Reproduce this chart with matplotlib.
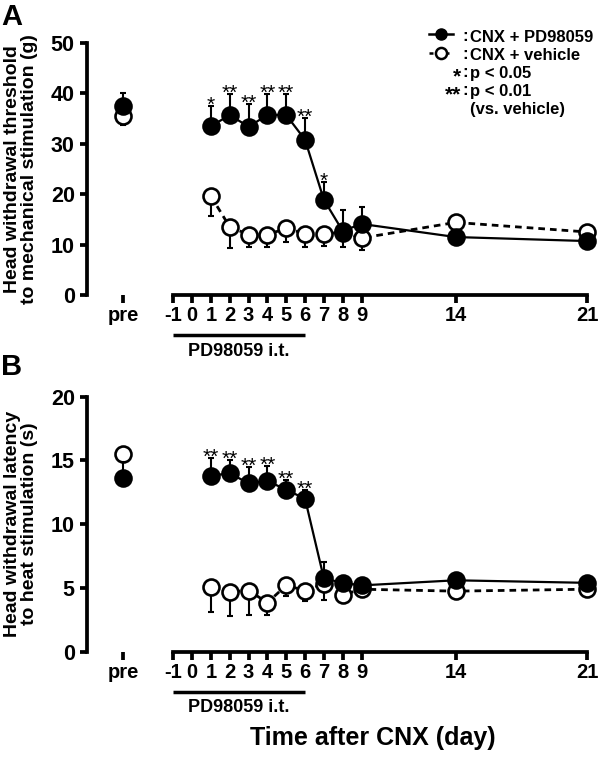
import matplotlib
matplotlib.use("Agg")
import matplotlib.pyplot as plt
from matplotlib.lines import Line2D
import matplotlib.transforms as mtransforms

plt.rcParams['font.family'] = ['Liberation Sans', 'DejaVu Sans']
plt.rcParams['font.weight'] = 'bold'

# ---------------- data ----------------
pre_pos = -3.66
days = [1, 2, 3, 4, 5, 6, 7, 8, 9, 14, 21]
tick_positions = [pre_pos, -1, 0, 1, 2, 3, 4, 5, 6, 7, 8, 9, 14, 21]
tick_labels = ['pre', '-1', '0', '1', '2', '3', '4', '5', '6', '7', '8', '9', '14', '21']

# Panel A: mechanical threshold (g)
A_pd_pre, A_pd_pre_err = 37.5, 2.5
A_pd = [33.5, 35.7, 33.4, 35.7, 35.7, 30.8, 18.9, 12.7, 14.1, 11.5, 10.7]
A_pd_err = [4.0, 4.2, 4.5, 4.2, 4.2, 4.3, 3.6, 4.2, 3.4, 0.8, 0.7]
A_veh_pre, A_veh_pre_err = 35.5, 1.8
A_veh = [19.6, 13.5, 12.0, 12.0, 13.2, 12.2, 12.2, 12.4, 11.3, 14.4, 12.5]
A_veh_err = [3.9, 4.2, 2.4, 2.4, 2.6, 2.6, 2.5, 2.8, 2.4, 0.8, 0.8]
A_sig = ['*', '**', '**', '**', '**', '**', '*', '', '', '', '']
A_yticks = [0, 10, 20, 30, 40, 50]

# Panel B: heat latency (s)
B_pd_pre, B_pd_pre_err = 13.6, 1.3
B_pd = [13.8, 14.0, 13.2, 13.4, 12.7, 12.0, 5.75, 5.4, 5.2, 5.6, 5.4]
B_pd_err = [1.4, 1.0, 1.3, 1.2, 0.8, 0.7, 1.3, 0.4, 0.4, 0.4, 0.4]
B_veh_pre, B_veh_pre_err = 15.5, 0.3
B_veh = [5.1, 4.7, 4.8, 3.85, 5.2, 4.8, 5.3, 4.45, 4.9, 4.75, 4.9]
B_veh_err = [2.0, 1.9, 1.9, 0.95, 0.8, 0.8, 1.25, 0.3, 0.3, 0.3, 0.3]
B_sig = ['**', '**', '**', '**', '**', '**', '', '', '', '', '']
B_yticks = [0, 5, 10, 15, 20]

treat_start, treat_end = -1, 6

# ---------------- figure ----------------
W, H = 600, 758
fig = plt.figure(figsize=(W / 100, H / 100), dpi=100)

def fx(px):
    return px / W

def fy(py):
    return 1 - py / H

MS = 11.5
MEW = 1.9
SPW = 2.7


def panel(rect, ylim, yticks, pd_pre, pd_pre_err, pd, pd_err,
          veh_pre, veh_pre_err, veh, veh_err, sig, ax_h_px):
    ax = fig.add_axes(rect)
    ax.set_xlim(-5.57, 21.3)
    ax.set_ylim(*ylim)
    for s in ['top', 'right']:
        ax.spines[s].set_visible(False)
    for s in ['left', 'bottom']:
        ax.spines[s].set_linewidth(SPW)
    ax.spines['bottom'].set_bounds(-1, 21)
    ax.spines['left'].set_bounds(ylim[0], ylim[1])
    ax.set_xticks(tick_positions)
    ax.set_xticklabels(tick_labels)
    ax.set_yticks(yticks)
    ax.tick_params(axis='x', direction='out', length=6, width=SPW, pad=2,
                   labelsize=14.5)
    ax.tick_params(axis='y', direction='out', length=5, width=SPW, pad=4,
                   labelsize=15.5)
    for lab in ax.get_xticklabels() + ax.get_yticklabels():
        lab.set_fontweight('bold')

    # vehicle (open) - error downward
    ax.errorbar(days, veh, yerr=[veh_err, [0] * len(veh_err)], fmt='none',
                ecolor='black', elinewidth=1.5, capsize=2.5, capthick=1.5,
                zorder=2, clip_on=False)
    ax.errorbar([pre_pos], [veh_pre], yerr=[[veh_pre_err], [0]], fmt='none',
                ecolor='black', elinewidth=1.5, capsize=2.5, capthick=1.5,
                zorder=2, clip_on=False)
    ax.plot(days, veh, color='black', lw=2.0, ls=(0, (2.4, 1.8)), zorder=3,
            marker='o', ms=MS, mfc='white', mec='black', mew=MEW, clip_on=False)
    ax.plot([pre_pos], [veh_pre], ls='none', marker='o', ms=MS, mfc='white',
            mec='black', mew=MEW, zorder=3, clip_on=False)

    # PD98059 (filled) - error upward
    ax.errorbar(days, pd, yerr=[[0] * len(pd_err), pd_err], fmt='none',
                ecolor='black', elinewidth=1.5, capsize=2.5, capthick=1.5,
                zorder=4, clip_on=False)
    ax.errorbar([pre_pos], [pd_pre], yerr=[[0], [pd_pre_err]], fmt='none',
                ecolor='black', elinewidth=1.5, capsize=2.5, capthick=1.5,
                zorder=4, clip_on=False)
    ax.plot(days, pd, color='black', lw=1.6, ls='-', zorder=5,
            marker='o', ms=MS, mfc='black', mec='black', mew=MEW, clip_on=False)
    ax.plot([pre_pos], [pd_pre], ls='none', marker='o', ms=MS, mfc='black',
            mec='black', mew=MEW, zorder=5, clip_on=False)

    # significance stars
    for d, m, e, s in zip(days, pd, pd_err, sig):
        if s:
            ax.annotate(s, (d, m + e), xytext=(0, -3.5), textcoords='offset points',
                        ha='center', va='baseline', fontsize=15,
                        fontweight='normal', zorder=6)

    # treatment bar
    trans = mtransforms.blended_transform_factory(ax.transData, ax.transAxes)
    ax.plot([treat_start, treat_end], [-40 / ax_h_px] * 2, color='black',
            lw=2.5, transform=trans, clip_on=False, solid_capstyle='butt')
    ax.text((treat_start + treat_end) / 2, -56 / ax_h_px, 'PD98059 i.t.',
            transform=trans, ha='center', va='center', fontsize=13,
            fontweight='bold')
    return ax


axA = panel([fx(87.3), fy(295), fx(593 - 87.3), 252 / H], (0, 50), A_yticks,
            A_pd_pre, A_pd_pre_err, A_pd, A_pd_err,
            A_veh_pre, A_veh_pre_err, A_veh, A_veh_err, A_sig, 252)
axB = panel([fx(87.3), fy(651.7), fx(593 - 87.3), 255 / H], (0, 20), B_yticks,
            B_pd_pre, B_pd_pre_err, B_pd, B_pd_err,
            B_veh_pre, B_veh_pre_err, B_veh, B_veh_err, B_sig, 255)

# y labels
fig.text(fx(21), fy(169), 'Head withdrawal threshold\nto mechanical stimulation (g)',
         rotation=90, ha='center', va='center', fontsize=14, fontweight='bold',
         multialignment='center', linespacing=0.95)
fig.text(fx(21), fy(524), 'Head withdrawal latency\nto heat stimulation (s)',
         rotation=90, ha='center', va='center', fontsize=14, fontweight='bold',
         multialignment='center', linespacing=0.95)

# panel letters
fig.text(fx(1), fy(3), 'A', ha='left', va='top', fontsize=21, fontweight='bold')
fig.text(fx(1), fy(353), 'B', ha='left', va='top', fontsize=21, fontweight='bold')

# x label
fig.text(fx(373), fy(738), 'Time after CNX (day)', ha='center', va='center',
         fontsize=18, fontweight='bold')

# legend (manual)
ly = [34, 53.3, 74, 91.7, 110.7]
fig.add_artist(Line2D([fx(429), fx(453)], [fy(ly[0])] * 2, color='black', lw=1.8,
                      transform=fig.transFigure))
fig.add_artist(Line2D([fx(441)], [fy(ly[0])], marker='o', ms=8, mfc='black',
                      mec='black', transform=fig.transFigure))
fig.add_artist(Line2D([fx(429), fx(453)], [fy(ly[1])] * 2, color='black', lw=1.8,
                      ls=(0, (1.6, 1.6)), transform=fig.transFigure))
fig.add_artist(Line2D([fx(441)], [fy(ly[1])], marker='o', ms=8, mfc='white',
                      mec='black', mew=1.8, transform=fig.transFigure))
fig.text(fx(465.5), fy((ly[0] + ly[3]) / 2 + 1), ':\n:\n:\n:', ha='center',
         va='center', fontsize=12, fontweight='bold', linespacing=1.25)
fig.text(fx(470), fy((ly[0] + ly[4]) / 2 + 1),
         'CNX + PD98059\nCNX + vehicle\np < 0.05\np < 0.01\n(vs. vehicle)',
         ha='left', va='center', fontsize=12, fontweight='bold',
         linespacing=1.25, multialignment='left')
fig.text(fx(461), fy((ly[2] + ly[3]) / 2 + 3), '*\n**', ha='right', va='center',
         fontsize=15, fontweight='bold', multialignment='right', linespacing=0.93)

fig.savefig('out.png', dpi=100)
